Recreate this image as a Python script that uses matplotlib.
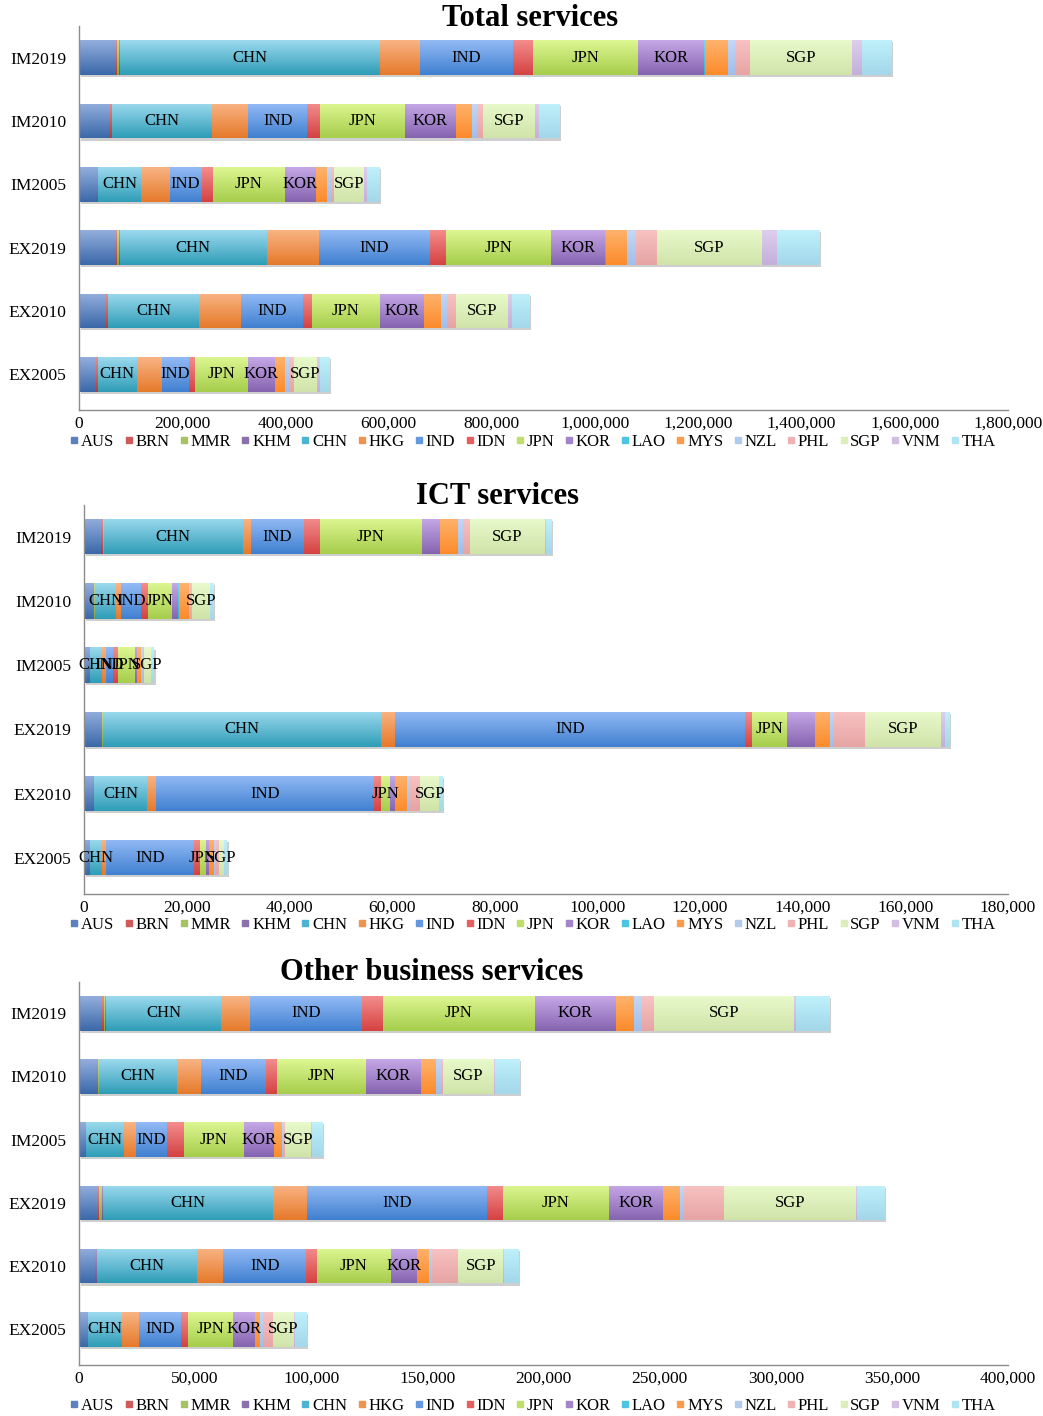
import numpy as np
import matplotlib
matplotlib.use("Agg")
import matplotlib.pyplot as plt
import matplotlib.patheffects as pe
from matplotlib.colors import LinearSegmentedColormap
from matplotlib.lines import Line2D
from matplotlib.ticker import FuncFormatter

plt.rcParams['font.family'] = ['Liberation Serif', 'DejaVu Serif']

partners = ["AUS", "BRN", "MMR", "KHM", "CHN", "HKG", "IND", "IDN", "JPN",
            "KOR", "LAO", "MYS", "NZL", "PHL", "SGP", "VNM", "THA"]
rows = ["IM2019", "IM2010", "IM2005", "EX2019", "EX2010", "EX2005"]

# Trade values by partner (same order as `partners`)
total_services = {
    "IM2019": [71800, 1000, 4000, 2500, 503000, 77700, 180600, 38800, 203900, 128200, 500, 44700, 13600, 29100, 198000, 19400, 57000],
    "IM2010": [60200, 1500, 1000, 1000, 194000, 69900, 114600, 25200, 165000, 97100, 300, 31000, 11000, 11000, 101000, 7800, 39000],
    "IM2005": [35000, 1500, 500, 500, 83500, 54400, 62100, 21400, 139800, 60200, 200, 21400, 7800, 5800, 58300, 5800, 23300],
    "EX2019": [71800, 1000, 5000, 2000, 283500, 101000, 215500, 31100, 203900, 104900, 500, 40800, 17500, 40800, 203900, 29100, 81600],
    "EX2010": [52400, 1000, 1000, 2000, 176700, 81600, 118400, 17500, 132000, 85400, 300, 33000, 11700, 17500, 101000, 7800, 33000],
    "EX2005": [33000, 1000, 500, 1500, 75700, 48500, 52400, 11700, 102900, 52400, 200, 19400, 7800, 9700, 44700, 6500, 17500],
}
ict_services = {
    "IM2019": [3300, 400, 100, 100, 27000, 1700, 10200, 3100, 19900, 3500, 50, 3500, 1000, 1300, 14600, 300, 1000],
    "IM2010": [1900, 100, 50, 50, 4200, 1000, 3900, 1200, 4700, 1300, 20, 2000, 300, 300, 3500, 100, 600],
    "IM2005": [1000, 50, 20, 20, 2400, 700, 1400, 1000, 3300, 400, 10, 800, 300, 300, 1300, 100, 500],
    "EX2019": [3500, 100, 50, 100, 54100, 2800, 68200, 1200, 6900, 5400, 50, 2900, 800, 6000, 14900, 700, 800],
    "EX2010": [1700, 100, 20, 200, 10200, 1900, 42300, 1400, 1700, 1000, 20, 2300, 500, 2200, 3600, 100, 600],
    "EX2005": [1000, 50, 10, 50, 2400, 800, 17100, 1100, 1200, 700, 10, 1000, 300, 500, 1000, 100, 500],
}
other_business = {
    "IM2019": [10000, 600, 600, 300, 49800, 12300, 48200, 8900, 65700, 34700, 100, 7900, 2900, 5500, 60500, 800, 14400],
    "IM2010": [7900, 300, 200, 200, 33700, 10400, 27700, 4900, 38300, 23600, 50, 6400, 2200, 800, 22100, 400, 10500],
    "IM2005": [2500, 300, 200, 200, 16300, 4900, 13600, 7100, 25900, 13000, 30, 3300, 1000, 500, 11100, 300, 4400],
    "EX2019": [8200, 300, 1500, 200, 73400, 14500, 77700, 6700, 45600, 23200, 50, 7600, 1700, 17200, 56700, 300, 11900],
    "EX2010": [7000, 200, 300, 200, 43000, 11300, 35900, 4400, 31900, 11400, 30, 4900, 1500, 11100, 19600, 300, 6100],
    "EX2005": [3700, 100, 100, 100, 14400, 7600, 18100, 3000, 19000, 9500, 20, 2200, 1200, 4400, 9200, 200, 4900],
}

# (top, bottom) gradient colours and a flat mid colour per partner
grad_top = ["#93AEDD", "#EA8E8B", "#C8DD92", "#AF9ACB", "#9BD9EE", "#F9B383", "#92BAF5", "#F38C8C",
            "#DCF691", "#C5A8E7", "#74DAEF", "#FFB26C", "#C4D8F6", "#F8C2C2", "#E8F9CB", "#DECEED", "#BFF1FB"]
grad_bot = ["#3B68A9", "#B33B37", "#87A942", "#6B5090", "#2F9DB7", "#E57A2B", "#4080D0", "#D54242",
            "#A6CD4B", "#8664B0", "#30B3D1", "#FB8B2B", "#A1BDE9", "#E6A4A4", "#D0E4A9", "#C3AFD9", "#A3D7E9"]
mid = ["#5A80C0", "#CF5A57", "#A5C363", "#8B71AC", "#4DB4CF", "#F09350", "#6499E2", "#E55F5F",
       "#BEE06A", "#A284CB", "#4CC6E0", "#FE9B48", "#B2CAEE", "#EFB2B2", "#DCEEBA", "#D0BEE3", "#B1E4F2"]

W, H = 1043, 1416
fig = plt.figure(figsize=(W / 100, H / 100), dpi=100)


def add_panel(data, labeled, xmax, xstep, left, right, bottom, unit, title, title_x, title_y, legend_y):
    ylo, yhi = -0.565, 5.5
    top = bottom - (yhi - ylo) * unit
    ax = fig.add_axes([left / W, 1 - bottom / H, (right - left) / W, (bottom - top) / H])
    y = np.arange(len(rows))[::-1]
    acc = np.zeros(len(rows))
    grad = np.linspace(0, 1, 48).reshape(-1, 1)
    for k, name in enumerate(partners):
        vals = np.array([data[r][k] for r in rows], dtype=float)
        cont = ax.barh(y, vals, left=acc, height=0.55, color=mid[k], linewidth=0, zorder=1)
        cmap = LinearSegmentedColormap.from_list(name, [grad_bot[k], grad_top[k]])
        for p in cont:
            p.set_path_effects([pe.SimplePatchShadow(offset=(1.3, -1.5), shadow_rgbFace="0.45", alpha=0.35),
                                pe.Normal()])
            x0, y0, w, h = p.get_x(), p.get_y(), p.get_width(), p.get_height()
            if w <= 0:
                continue
            im = ax.imshow(grad, extent=(x0, x0 + w, y0, y0 + h), origin="lower", aspect="auto",
                           cmap=cmap, interpolation="bilinear", zorder=2)
            im.set_clip_path(p)
        if name in labeled:
            ax.bar_label(cont, labels=[name] * len(rows), label_type="center", fontsize=12, zorder=5)
        acc += vals

    ax.set_xlim(0, xmax)
    ax.set_ylim(ylo, yhi)
    ax.set_xticks(np.arange(0, xmax + 1, xstep))
    ax.xaxis.set_major_formatter(FuncFormatter(lambda v, _: f"{v:,.0f}"))
    ax.set_yticks(y)
    ax.set_yticklabels(rows)
    ax.tick_params(axis="x", length=0, pad=4, labelsize=12.5)
    ax.tick_params(axis="y", length=0, pad=9, labelsize=12.5)
    for s in ("top", "right"):
        ax.spines[s].set_visible(False)
    for s in ("left", "bottom"):
        ax.spines[s].set_color("#8C8C8C")
        ax.spines[s].set_linewidth(1.0)

    fig.text(title_x / W, 1 - title_y / H, title, ha="center", va="center",
             fontsize=22, fontweight="bold")

    handles = [Line2D([], [], marker="s", linestyle="none", markersize=4.5, color=mid[k])
               for k in range(len(partners))]
    fig.legend(handles, partners, loc="center", bbox_to_anchor=(533 / W, 1 - legend_y / H),
               ncol=len(partners), frameon=False, fontsize=12, handlelength=0.5,
               handletextpad=0.15, columnspacing=0.62, borderpad=0, borderaxespad=0)
    return ax


add_panel(total_services, {"CHN", "IND", "JPN", "KOR", "SGP"}, 1800000, 200000,
          79, 1008, 410, 63.3, "Total services", 530, 19, 442)
add_panel(ict_services, {"CHN", "IND", "JPN", "SGP"}, 180000, 20000,
          84, 1008, 894, 64.2, "ICT services", 498, 496, 925)
add_panel(other_business, {"CHN", "IND", "JPN", "KOR", "SGP"}, 400000, 50000,
          79, 1008, 1365, 63.2, "Other business services", 432, 973, 1406)

fig.savefig("out.png", dpi=100)
